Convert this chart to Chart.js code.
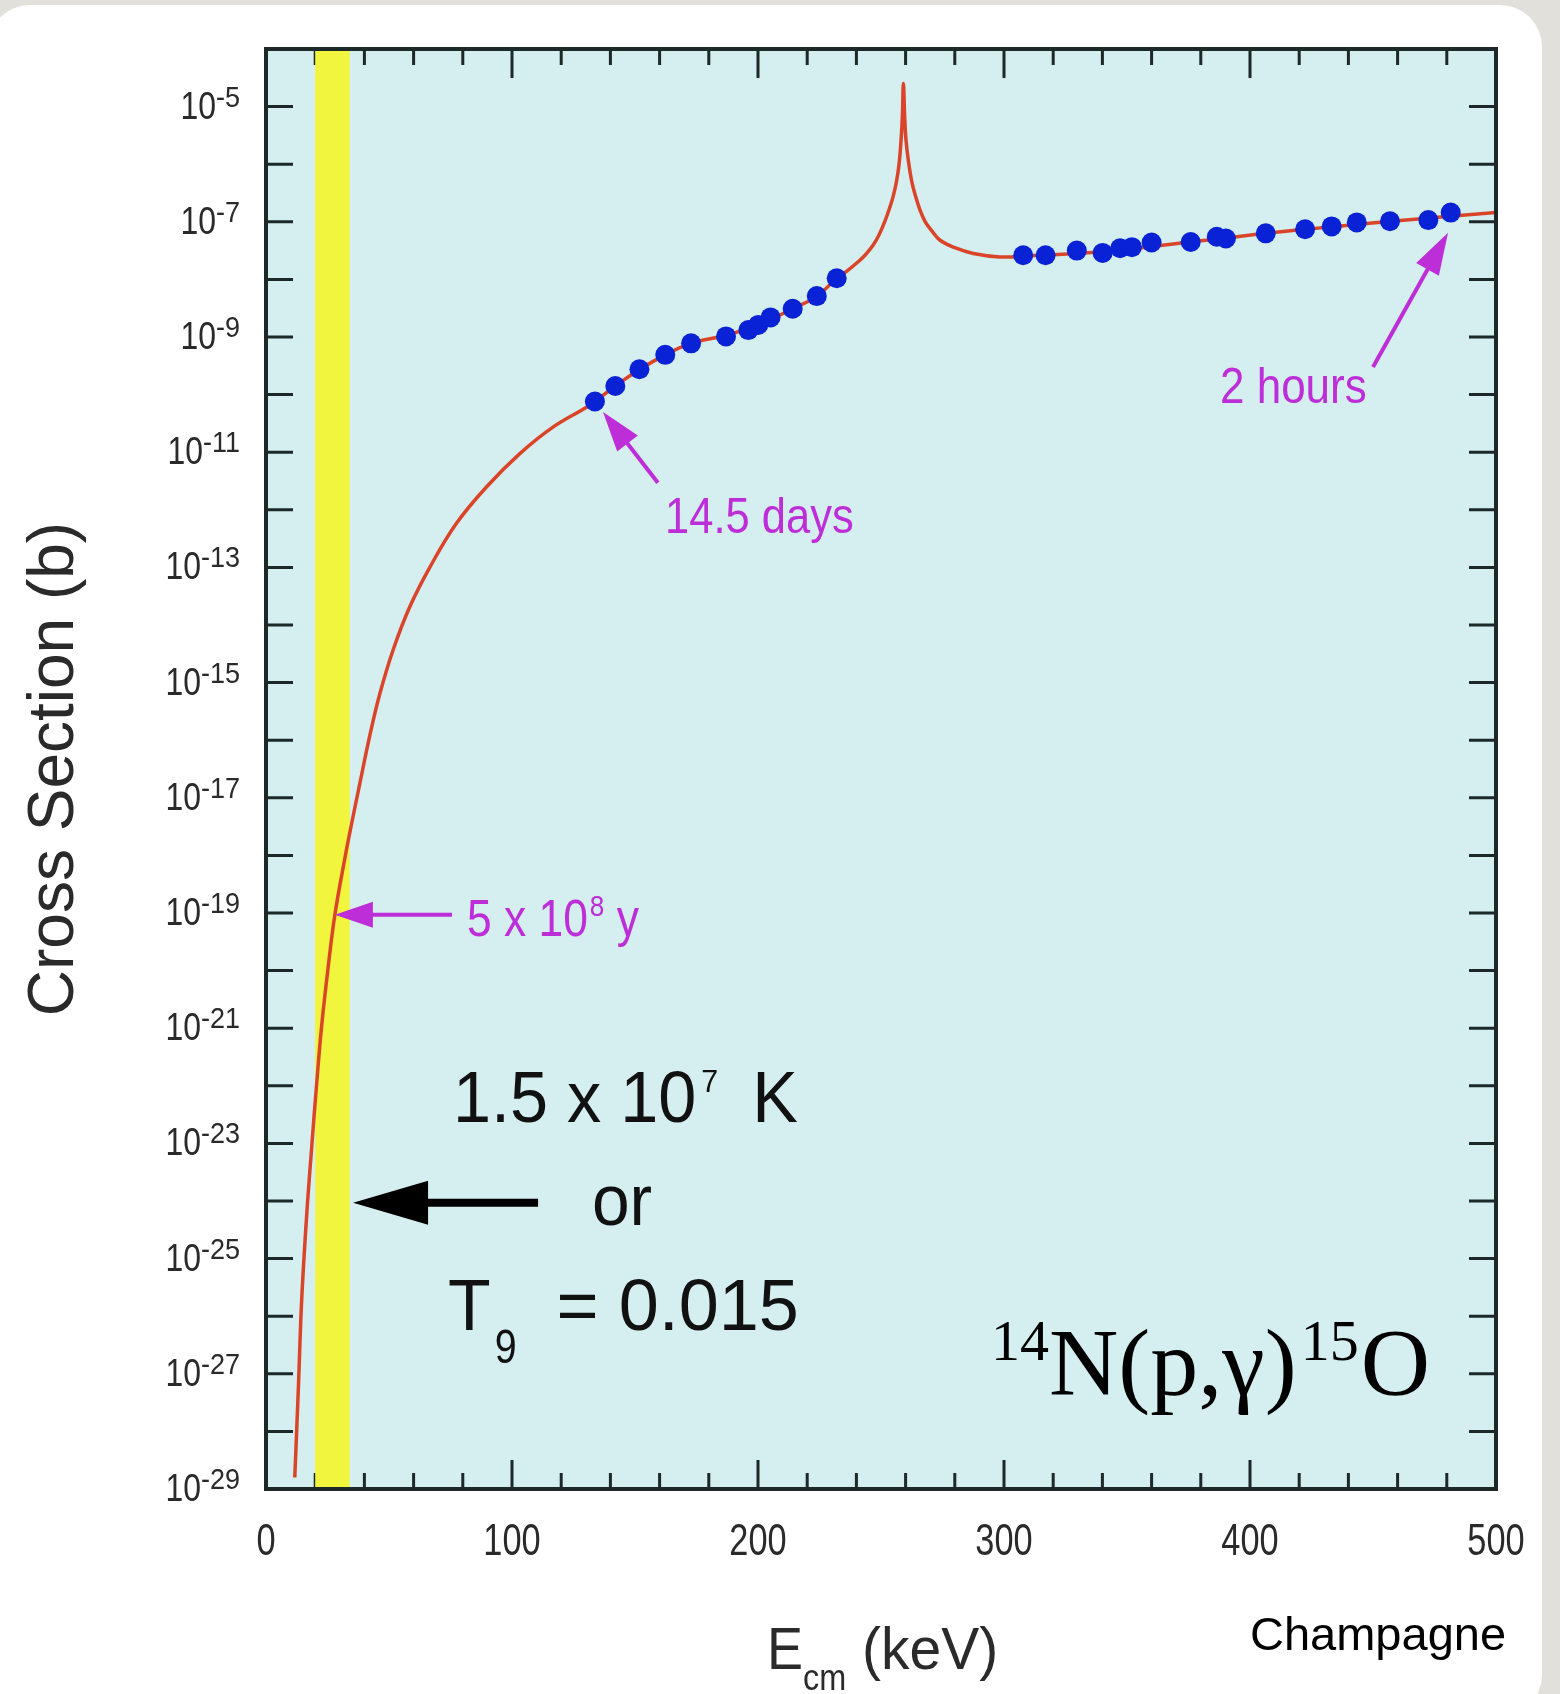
<!DOCTYPE html>
<html>
<head>
<meta charset="utf-8">
<title>14N(p,g)15O cross section</title>
<script src="https://cdn.jsdelivr.net/npm/chart.js@4.4.1/dist/chart.umd.min.js"></script>
<style>
  html, body { margin: 0; padding: 0; }
  body { width: 1560px; height: 1694px; background: #e2e0db; position: relative; overflow: hidden; }
  #card { position: absolute; left: -12px; top: 5px; width: 1554px; height: 1712px; background: #ffffff; border-radius: 42px; }
  #wrap { position: absolute; left: 0; top: 0; width: 1560px; height: 1694px; }
</style>
</head>
<body>
<div id="card"></div>
<div id="wrap"><canvas id="chart"></canvas></div>
<script>
// Energies in keV (centre of mass), cross sections stored as log10(sigma / barn)

// smooth curve (red)
const curveE = [11.7, 13.2, 14.5, 16.5, 18.6, 20.6, 22.6, 25.3, 28.0, 32.1, 34.8, 38.2, 42.3, 46.3,
    51.7, 58.5, 66.7, 77.5, 89.7, 103.3, 116.8, 131.7, 142.0, 152.0, 162.3, 172.8, 187.0, 200.1,
    214.1, 224.0, 232.0, 236.0, 240.0, 243.5, 246.9, 249.5, 251.5, 253.5, 255.0, 256.3, 257.4, 258.2, 258.7, 259.1,
    259.6, 260.1, 261.1, 262.5, 264.0, 265.9, 268.0, 270.5, 274.0, 280.0, 287.5, 298.4, 310.0, 340.0, 380.0, 420.0, 460.0, 500.0];
const curveLogSigma = [-28.8, -27.2, -25.72, -24.27, -23.05, -21.96, -20.97, -19.93, -19.03, -18.04, -17.45, -16.74, -15.90, -15.19,
    -14.43, -13.68, -12.99, -12.23, -11.60, -11.02, -10.56, -10.18, -9.85, -9.56, -9.31, -9.11, -8.97, -8.79,
    -8.51, -8.29, -7.98, -7.86, -7.72, -7.58, -7.40, -7.20, -7.00, -6.76, -6.55, -6.30, -5.98, -5.55, -5.15, -4.60,
    -5.15, -5.55, -5.93, -6.30, -6.55, -6.80, -7.00, -7.15, -7.32, -7.45, -7.55, -7.61, -7.59, -7.52, -7.33, -7.14, -6.98, -6.84];

// measured points below the resonance (blue)
const lowDataE = [133.7, 142.0, 151.8, 162.3, 172.8, 187.0, 196.1, 200.1, 205.1, 214.1, 223.9, 232.0];
const lowDataLogSigma = [-10.12, -9.85, -9.56, -9.31, -9.11, -8.99, -8.88, -8.79, -8.66, -8.51, -8.29, -7.98];

// measured points above the resonance (blue)
const highDataE = [307.8, 316.9, 329.6, 340.1, 347.2, 352.0, 360.0, 375.9, 386.5, 390.2, 406.4, 422.4, 433.2, 443.4, 456.9, 472.5, 481.6];
const highDataLogSigma = [-7.58, -7.58, -7.50, -7.54, -7.46, -7.44, -7.36, -7.35, -7.26, -7.29, -7.20, -7.13, -7.08, -7.01, -6.99, -6.97, -6.84];

// Gamow window at 1.5 x 10^7 K (yellow band), keV
const gamowWindow = [20, 34];

// axes
const xTickLabels = [0, 100, 200, 300, 400, 500];
const xTickMarks = [0, 20, 40, 60, 80, 100, 120, 140, 160, 180, 200, 220, 240, 260, 280, 300, 320, 340, 360, 380, 400, 420, 440, 460, 480, 500];
const yDecades = [-29, -28, -27, -26, -25, -24, -23, -22, -21, -20, -19, -18, -17, -16, -15, -14, -13, -12, -11, -10, -9, -8, -7, -6, -5, -4];
const yLabelExponents = [-29, -27, -25, -23, -21, -19, -17, -15, -13, -11, -9, -7, -5];

const SANS = "'Liberation Sans', Arial, Helvetica, sans-serif";
const SERIF = "'Liberation Serif', 'Times New Roman', serif";
const PLOT_BG = '#d5eeef';
const YELLOW = '#f2f53d';
const RED = '#da4428';
const BLUE = '#0a22d6';
const MAGENTA = '#bd2ed8';
const AXIS = '#1d2828';
const INK = '#2a2a2a';

const toPoints = (xs, logs) => xs.map((x, i) => ({ x, y: Math.pow(10, logs[i]) }));

// draw a string, squeezed horizontally by sx; returns drawn width
const drawText = (ctx, str, x, y, font, color, sx = 1, align = 'left') => {
    ctx.save();
    ctx.font = font;
    ctx.fillStyle = color;
    ctx.textBaseline = 'alphabetic';
    const w = ctx.measureText(str).width * sx;
    const x0 = align === 'right' ? x - w : align === 'center' ? x - w / 2 : x;
    ctx.translate(x0, y);
    ctx.scale(sx, 1);
    ctx.fillText(str, 0, 0);
    ctx.restore();
    return w;
};

// a run of pieces: { t, font, dx, dy, sx }
const drawRuns = (ctx, x, y, runs, color, sx) => {
    let cx = x;
    runs.forEach(r => {
        cx += r.dx || 0;
        cx += drawText(ctx, r.t, cx, y + (r.dy || 0), r.font, color, r.sx || sx);
    });
};

const drawArrow = (ctx, x1, y1, x2, y2, color, width, headLen, headHalf) => {
    const ang = Math.atan2(y2 - y1, x2 - x1);
    const bx = x2 - headLen * Math.cos(ang), by = y2 - headLen * Math.sin(ang);
    ctx.save();
    ctx.strokeStyle = color;
    ctx.fillStyle = color;
    ctx.lineWidth = width;
    ctx.beginPath();
    ctx.moveTo(x1, y1);
    ctx.lineTo(bx + 2 * Math.cos(ang), by + 2 * Math.sin(ang));
    ctx.stroke();
    ctx.beginPath();
    ctx.moveTo(x2, y2);
    ctx.lineTo(bx + headHalf * Math.sin(ang), by - headHalf * Math.cos(ang));
    ctx.lineTo(bx - headHalf * Math.sin(ang), by + headHalf * Math.cos(ang));
    ctx.closePath();
    ctx.fill();
    ctx.restore();
};

const decor = {
    id: 'decor',
    beforeDraw(chart) {
        const { ctx, chartArea: a } = chart;
        ctx.save();
        ctx.fillStyle = PLOT_BG;
        ctx.fillRect(a.left, a.top, a.right - a.left, a.bottom - a.top);
        ctx.restore();
    },
    beforeDatasetsDraw(chart) {
        const { ctx, chartArea: a, scales: { x, y } } = chart;
        ctx.save();
        // inward ticks on all four sides
        ctx.strokeStyle = AXIS;
        ctx.lineWidth = 3;
        ctx.beginPath();
        yDecades.forEach(e => {
            const py = y.getPixelForValue(Math.pow(10, e));
            ctx.moveTo(a.left, py); ctx.lineTo(a.left + 27, py);
            ctx.moveTo(a.right, py); ctx.lineTo(a.right - 27, py);
        });
        xTickMarks.forEach(v => {
            const px = x.getPixelForValue(v);
            const len = v % 100 === 0 ? 29 : 16;
            ctx.moveTo(px, a.top); ctx.lineTo(px, a.top + len);
            ctx.moveTo(px, a.bottom); ctx.lineTo(px, a.bottom - len);
        });
        ctx.stroke();
        // Gamow window
        const x0 = x.getPixelForValue(gamowWindow[0]);
        const x1 = x.getPixelForValue(gamowWindow[1]);
        ctx.fillStyle = YELLOW;
        ctx.fillRect(x0, a.top + 2, x1 - x0, a.bottom - a.top - 4);
        ctx.restore();
    },
    afterDatasetsDraw(chart) {
        const { ctx, chartArea: a, scales: { x, y } } = chart;
        const px = v => x.getPixelForValue(v);
        const py = e => y.getPixelForValue(Math.pow(10, e));

        // frame
        ctx.save();
        ctx.strokeStyle = AXIS;
        ctx.lineWidth = 4;
        ctx.strokeRect(a.left, a.top, a.right - a.left, a.bottom - a.top);
        ctx.restore();

        // y tick labels 10^n
        yLabelExponents.forEach(e => {
            const yy = py(e);
            const w = drawText(ctx, String(e), 240, yy, `30px ${SANS}`, INK, 0.9, 'right');
            drawText(ctx, '10', 240 - w, yy + 12, `38px ${SANS}`, INK, 0.84, 'right');
        });
        // x tick labels
        xTickLabels.forEach(v => {
            drawText(ctx, String(v), px(v), a.bottom + 66, `44px ${SANS}`, INK, 0.78, 'center');
        });

        // axis titles
        ctx.save();
        ctx.translate(55, (a.top + a.bottom) / 2);
        ctx.rotate(-Math.PI / 2);
        ctx.font = `64px ${SANS}`;
        ctx.fillStyle = INK;
        ctx.textAlign = 'center';
        ctx.textBaseline = 'middle';
        ctx.fillText('Cross Section (b)', 0, 0);
        ctx.restore();
        drawRuns(ctx, 767, 1669, [
            { t: 'E', font: `60px ${SANS}` },
            { t: 'cm', font: `36px ${SANS}`, dy: 21 },
            { t: ' (keV)', font: `60px ${SANS}`, sx: 0.95 }
        ], INK, 0.9);

        // magenta annotations
        drawArrow(ctx, px(159.3), py(-11.53), px(137.0), py(-10.30), MAGENTA, 4, 40, 13);
        drawText(ctx, '14.5 days', px(162.2), py(-12.40), `50px ${SANS}`, MAGENTA, 0.87);
        drawArrow(ctx, px(450.0), py(-9.52), px(480.5), py(-7.19), MAGENTA, 4, 42, 13);
        drawText(ctx, '2 hours', px(387.8), py(-10.15), `50px ${SANS}`, MAGENTA, 0.88);
        drawArrow(ctx, px(75.6), py(-19.03), px(28.0), py(-19.03), MAGENTA, 4, 38, 13);
        drawRuns(ctx, px(81.7), py(-19.40), [
            { t: '5 x 10', font: `51px ${SANS}` },
            { t: '8', font: `30px ${SANS}`, dy: -20, dx: 2 },
            { t: ' y', font: `51px ${SANS}` }
        ], MAGENTA, 0.87);

        // temperature note
        drawArrow(ctx, px(110.6), py(-24.03), px(35.4), py(-24.03), '#000', 8, 75, 22);
        drawRuns(ctx, px(76.0), py(-22.63), [
            { t: '1.5 x 10', font: `72px ${SANS}` },
            { t: '7', font: `32px ${SANS}`, dy: -30, dx: 5 },
            { t: 'K', font: `72px ${SANS}`, dx: 34 }
        ], '#111', 0.95);
        drawText(ctx, 'or', px(132.5), py(-24.42), `72px ${SANS}`, '#111', 0.94);
        drawRuns(ctx, px(74.0), py(-26.24), [
            { t: 'T', font: `72px ${SANS}` },
            { t: '9', font: `48px ${SANS}`, dy: 33, dx: 4, sx: 0.82 },
            { t: '= 0.015', font: `72px ${SANS}`, dx: 40, sx: 1.0 }
        ], '#111', 0.97);

        // reaction label
        drawRuns(ctx, px(294.7), py(-27.37), [
            { t: '14', font: `58px ${SERIF}`, dy: -35 },
            { t: 'N(p,γ)', font: `96px ${SERIF}` },
            { t: '15', font: `58px ${SERIF}`, dy: -35, dx: 4 },
            { t: 'O', font: `96px ${SERIF}`, dx: 2 }
        ], '#000', 1);

        // credit
        drawText(ctx, 'Champagne', 1250, 1650, `47px ${SANS}`, '#000', 1);
    }
};

new Chart(document.getElementById('chart').getContext('2d'), {
    type: 'scatter',
    data: {
        datasets: [
            {
                label: 'calculation',
                data: toPoints(curveE, curveLogSigma),
                showLine: true,
                borderColor: RED,
                borderWidth: 3.5,
                pointRadius: 0,
                tension: 0.4,
                order: 2
            },
            {
                label: 'data below resonance',
                data: toPoints(lowDataE, lowDataLogSigma),
                pointRadius: 10,
                backgroundColor: BLUE,
                borderWidth: 0,
                order: 1
            },
            {
                label: 'data above resonance',
                data: toPoints(highDataE, highDataLogSigma),
                pointRadius: 10,
                backgroundColor: BLUE,
                borderWidth: 0,
                order: 1
            }
        ]
    },
    options: {
        animation: false,
        responsive: true,
        maintainAspectRatio: false,
        devicePixelRatio: 1,
        layout: { padding: { left: 0, top: 49, right: 64, bottom: 0 } },
        plugins: {
            legend: { display: false },
            tooltip: { enabled: false }
        },
        scales: {
            x: {
                type: 'linear',
                min: 0,
                max: 500,
                grid: { display: false, drawTicks: false },
                border: { display: false },
                ticks: { display: false },
                afterBuildTicks: s => { s.ticks = xTickLabels.map(v => ({ value: v })); },
                afterFit: s => { s.height = 205; }
            },
            y: {
                type: 'logarithmic',
                min: 1e-29,
                max: 1e-4,
                grid: { display: false, drawTicks: false },
                border: { display: false },
                ticks: { display: false },
                afterBuildTicks: s => { s.ticks = yDecades.map(e => ({ value: Math.pow(10, e) })); },
                afterFit: s => { s.width = 266; }
            }
        }
    },
    plugins: [decor]
});
</script>
</body>
</html>
